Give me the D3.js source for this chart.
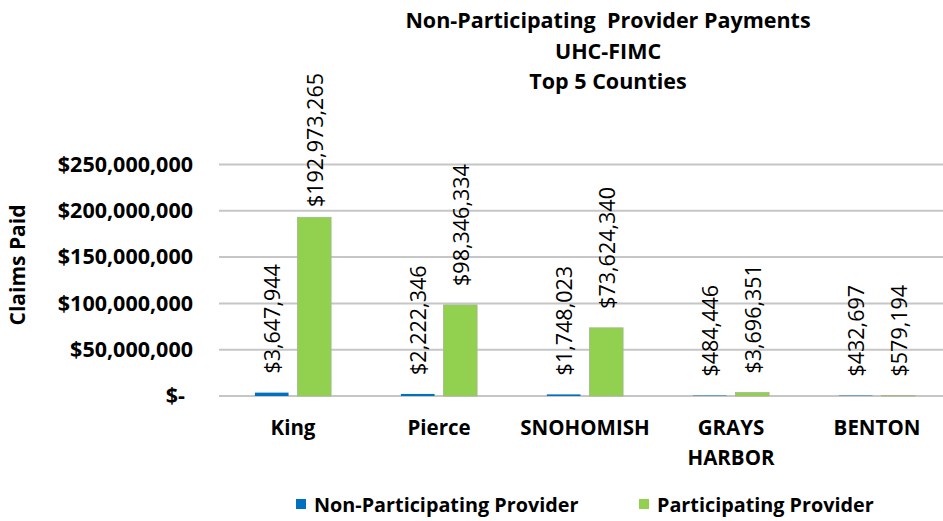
<!DOCTYPE html>
<html>
<head>
<meta charset="utf-8">
<script src="https://cdn.jsdelivr.net/npm/d3@7"></script>
<style>
  body { margin: 0; background: #fff; }
  svg { display: block; font-family: "Open Sans", sans-serif; }
</style>
</head>
<body>
<script>
// Chart data
const counties = ['King', 'Pierce', 'SNOHOMISH', 'GRAYS HARBOR', 'BENTON'];
const seriesNames = ['Non-Participating Provider', 'Participating Provider'];
const nonParticipating = [3647944, 2222346, 1748023, 484446, 432697];
const participating = [192973265, 98346334, 73624340, 3696351, 579194];
const yTicks = [0, 50000000, 100000000, 150000000, 200000000, 250000000];
const titleLines = ['Non-Participating  Provider Payments', 'UHC-FIMC', 'Top 5 Counties'];
const colors = ['#0070C0', '#92D050'];

const width = 943, height = 521;
const svg = d3.select('body').append('svg')
    .attr('width', width)
    .attr('height', height);

// Scales
const x0 = d3.scaleBand().domain(counties).range([220, 950]);
const x1 = d3.scaleBand().domain(seriesNames)
    .range([0, x0.bandwidth()])
    .paddingInner(0.21)
    .paddingOuter(0.82);
const y = d3.scaleLinear().domain([0, 250000000]).range([396, 164.5]);

const money = d3.format(',');
const fmt = v => v === 0 ? '$-' : '$' + money(v);

// Gridlines
svg.append('g')
    .selectAll('line')
    .data(yTicks)
    .join('line')
    .attr('x1', 219)
    .attr('x2', width)
    .attr('y1', d => y(d))
    .attr('y2', d => y(d))
    .attr('stroke', '#c6c6c6')
    .attr('stroke-width', 2);

// Y axis labels
const yAxis = svg.append('g')
    .attr('transform', 'translate(193,0)')
    .call(d3.axisLeft(y).tickValues(yTicks).tickFormat(fmt).tickSize(0).tickPadding(0));
yAxis.select('.domain').remove();
yAxis.selectAll('text')
    .attr('font-family', '"Open Sans", sans-serif')
    .attr('font-size', 21.5)
    .attr('font-weight', 'bold')
    .attr('fill', '#000')
    .attr('dx', d => d === 0 ? -8 : 0);

// Y axis title
svg.append('text')
    .attr('transform', 'translate(17,265) rotate(-90)')
    .attr('text-anchor', 'middle')
    .attr('dominant-baseline', 'central')
    .attr('font-size', 21)
    .attr('font-weight', 'bold')
    .text('Claims Paid');

// Bars
const rows = counties.map((c, i) => ({county: c, values: [nonParticipating[i], participating[i]]}));
const groups = svg.append('g')
    .selectAll('g')
    .data(rows)
    .join('g')
    .attr('transform', d => `translate(${x0(d.county)},0)`);

const items = groups.selectAll('g')
    .data(d => d.values.map((v, j) => ({series: seriesNames[j], value: v, j})))
    .join('g');

items.append('rect')
    .attr('x', d => x1(d.series))
    .attr('width', x1.bandwidth())
    .attr('y', d => y(d.value))
    .attr('height', d => y(0) - y(d.value))
    .attr('fill', d => colors[d.j])
    .attr('stroke', d => d.j === 1 ? '#a3b88a' : 'none')
    .attr('stroke-width', 0.8);

// Data labels (rotated), kept below the title area
items.append('text')
    .attr('text-anchor', 'start')
    .attr('dominant-baseline', 'central')
    .attr('font-size', 21.5)
    .attr('fill', '#000')
    .text(d => fmt(d.value))
    .each(function (d) {
        const len = this.getComputedTextLength();
        const cx = x1(d.series) + x1.bandwidth() / 2;
        const bottom = Math.max(y(d.value) - 19, 73 + len);
        d3.select(this).attr('transform', `translate(${cx},${bottom}) rotate(-90)`);
    });

// Category labels
const catLabels = svg.append('g')
    .selectAll('text')
    .data(counties)
    .join('text')
    .attr('x', d => x0(d) + x0.bandwidth() / 2)
    .attr('y', 435)
    .attr('text-anchor', 'middle')
    .attr('font-size', 20.5)
    .attr('font-weight', 'bold');
catLabels.selectAll('tspan')
    .data(d => d.split(' '))
    .join('tspan')
    .attr('x', function () { return d3.select(this.parentNode).attr('x'); })
    .attr('dy', (d, i) => i === 0 ? 0 : 30)
    .text(d => d);

// Title
svg.append('text')
    .attr('text-anchor', 'middle')
    .attr('font-size', 21.5)
    .attr('font-weight', 'bold')
    .selectAll('tspan')
    .data(titleLines)
    .join('tspan')
    .attr('x', 608)
    .attr('y', (d, i) => 28 + i * 30.5)
    .attr('xml:space', 'preserve')
    .style('white-space', 'pre')
    .text(d => d);

// Legend
const legendX = [296, 639];
const legend = svg.append('g')
    .selectAll('g')
    .data(seriesNames)
    .join('g')
    .attr('transform', (d, i) => `translate(${legendX[i]},499)`);
legend.append('rect')
    .attr('width', 10)
    .attr('height', 10)
    .attr('fill', (d, i) => colors[i]);
legend.append('text')
    .attr('x', 18)
    .attr('y', 13)
    .attr('font-size', 19.8)
    .attr('font-weight', 'bold')
    .text(d => d);
</script>
</body>
</html>
